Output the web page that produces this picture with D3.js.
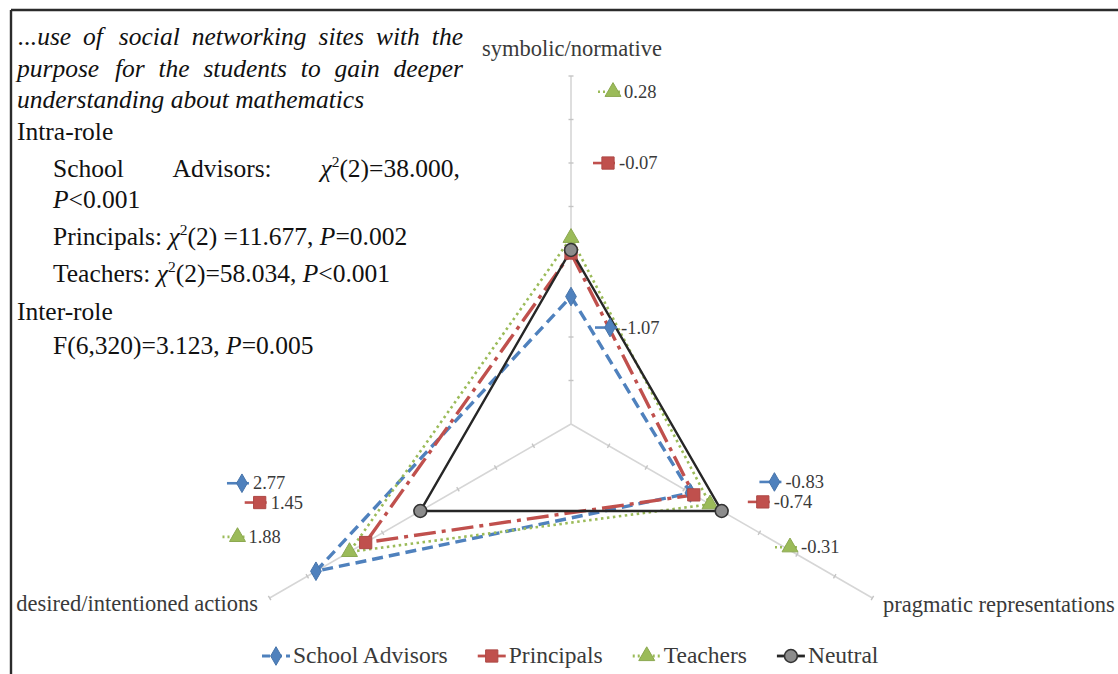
<!DOCTYPE html>
<html><head><meta charset="utf-8">
<script src="https://cdn.jsdelivr.net/npm/d3@7"></script>
</head><body style="margin:0">
<svg id="chart" width="1118" height="674"></svg>
<script>
// ---------- data ----------
const axisNames = ["symbolic/normative", "pragmatic representations", "desired/intentioned actions"];
const seriesNames = ["School Advisors", "Principals", "Teachers", "Neutral"];
const schoolAdvisors = [-1.07, -0.83, 2.77];
const principals = [-0.07, -0.74, 1.45];
const teachers = [0.28, -0.31, 1.88];
const neutral = [0, 0, 0];
const radialTicks = [-4, -3, -2, -1, 0, 1, 2, 3, 4];
// note text: *...* italic, ^2 superscript
const noteLines = [
  "*...use of social networking sites with the*",
  "*purpose for the students to gain deeper*",
  "*understanding about mathematics*",
  "Intra-role",
  "School Advisors: *\u03C7*^2(2)=38.000,",
  "*P*<0.001",
  "Principals: *\u03C7*^2(2) =11.677, *P*=0.002",
  "Teachers: *\u03C7*^2(2)=58.034, *P*<0.001",
  "Inter-role",
  "F(6,320)=3.123, *P*=0.005"
];

// ---------- layout ----------
const W = 1118, H = 674;
const cx = 571, cy = 424, R = 348;
const FONT = "Liberation Serif";
const svg = d3.select("#chart");

// frame
svg.append("line").attr("x1", 11).attr("x2", W).attr("y1", 10).attr("y2", 10)
  .attr("stroke", "#2b2b2b").attr("stroke-width", 2.4);
svg.append("line").attr("x1", 11).attr("x2", 11).attr("y1", 10).attr("y2", H)
  .attr("stroke", "#2b2b2b").attr("stroke-width", 2.4);

const r = d3.scaleLinear().domain([-4, 4]).range([0, R]);
const angle = i => i * 2 * Math.PI / axisNames.length;
const px = (v, i) => cx + r(v) * Math.sin(angle(i));
const py = (v, i) => cy - r(v) * Math.cos(angle(i));

const g = svg.append("g");

// axes
axisNames.forEach((name, i) => {
  g.append("line").attr("x1", cx).attr("y1", cy)
    .attr("x2", px(4, i)).attr("y2", py(4, i))
    .attr("stroke", "#d6d6d6").attr("stroke-width", 1.6);
  radialTicks.slice(1).forEach(t => {
    const a = angle(i), x = px(t, i), y = py(t, i);
    const nx = Math.cos(a) * 2.5, ny = Math.sin(a) * 2.5;
    g.append("line").attr("x1", x - nx).attr("y1", y - ny).attr("x2", x + nx).attr("y2", y + ny)
      .attr("stroke", "#c4c4c4").attr("stroke-width", 1.4);
  });
});

// axis labels
const axisLabelPos = [
  {x: cx + 1, y: 56, anchor: "middle"},
  {x: 883, y: 612, anchor: "start"},
  {x: 258, y: 611, anchor: "end"}
];
axisNames.forEach((name, i) => {
  g.append("text").attr("x", axisLabelPos[i].x).attr("y", axisLabelPos[i].y)
    .attr("text-anchor", axisLabelPos[i].anchor).attr("font-family", FONT)
    .attr("font-size", 22.5).attr("fill", "#3a3a3a")
    .text(name);
});

// series styles
const styles = [
  {color: "#4f81bd", dash: "11,6", width: 3.4, sym: d3.symbolDiamond, size: 100},
  {color: "#c0504d", dash: "22,6,4,6", width: 3.4, sym: d3.symbolSquare, size: 150},
  {color: "#9bbb59", dash: "2.5,3.5", width: 2.6, sym: d3.symbolTriangle, size: 110},
  {color: "#262626", dash: null, width: 2.4, sym: d3.symbolCircle, size: 130}
];
const seriesValues = [schoolAdvisors, principals, teachers, neutral];

const radial = d3.lineRadial().angle((d, i) => angle(i)).radius(d => r(d)).curve(d3.curveLinearClosed);

function marker(sel, k, x, y) {
  const s = styles[k];
  const m = sel.append("path").attr("d", d3.symbol().type(s.sym).size(s.size)())
    .attr("transform", `translate(${x},${y})`);
  if (k === 3) m.attr("fill", "#8c8c8c").attr("stroke", "#333").attr("stroke-width", 1.6);
  else m.attr("fill", s.color).attr("stroke", d3.color(s.color).darker(0.3)).attr("stroke-width", 1);
}
function styleLine(sel, k) {
  const s = styles[k];
  sel.attr("fill", "none").attr("stroke", s.color).attr("stroke-width", s.width)
    .attr("stroke-linejoin", "miter");
  if (s.dash) sel.attr("stroke-dasharray", s.dash);
}

seriesValues.forEach((vals, k) => {
  const p = g.append("path").datum(vals).attr("d", radial)
    .attr("transform", `translate(${cx},${cy})`);
  styleLine(p, k);
});
seriesValues.forEach((vals, k) => {
  vals.forEach((v, i) => marker(g, k, px(v, i), py(v, i)));
});

// data labels (offsets of the key from each point)
const labelOffsets = [
  [[39, 31], [84, -11], [-74, -88]],
  [[37, -90], [69, 7], [-106, -40]],
  [[42, -146], [80, 43], [-112, -15]]
];
[schoolAdvisors, principals, teachers].forEach((vals, k) => {
  vals.forEach((v, i) => {
    const x = px(v, i) + labelOffsets[k][i][0], y = py(v, i) + labelOffsets[k][i][1];
    const l = g.append("line").attr("x1", x - 15).attr("x2", x + 7).attr("y1", y).attr("y2", y);
    styleLine(l, k);
    l.attr("stroke-width", 2.6).attr("stroke-dasharray", k === 2 ? "2,3" : null);
    marker(g, k, x, y);
    g.append("text").attr("x", x + 11).attr("y", y + 6).attr("font-family", FONT)
      .attr("font-size", 18.5).attr("fill", "#3a3a3a")
      .text(v.toFixed(2));
  });
});

// legend
const leg = svg.append("g");
let lx = 262;
const ly = 656;
seriesNames.forEach((name, k) => {
  const l = leg.append("line").attr("x1", lx).attr("x2", lx + 28).attr("y1", ly).attr("y2", ly);
  styleLine(l, k);
  l.attr("stroke-width", 2.8).attr("stroke-dasharray", k === 0 ? "8,4" : k === 2 ? "2,3" : null);
  marker(leg, k, lx + 14, ly);
  const t = leg.append("text").attr("x", lx + 31).attr("y", ly + 7).attr("font-family", FONT)
    .attr("font-size", 23.5).attr("fill", "#3a3a3a").text(name);
  lx += 31 + t.node().getComputedTextLength() + 30;
});

// note text
const noteLayout = [
  {x0: 18, x1: 463, y: 45, justify: true},
  {x0: 17, x1: 463, y: 77, justify: true},
  {x0: 17, x1: null, y: 108},
  {x0: 17, x1: null, y: 140},
  {x0: 53, x1: 463, y: 177, justify: true},
  {x0: 53, x1: null, y: 208},
  {x0: 53, x1: null, y: 245},
  {x0: 53, x1: null, y: 282},
  {x0: 17, x1: null, y: 320},
  {x0: 53, x1: null, y: 354}
];
const noteG = svg.append("g");
function addRich(textSel, str) {
  const parts = str.split(/(\*[^*]+\*|\^\d)/).filter(s => s.length);
  let raised = false;
  parts.forEach(p => {
    const ts = textSel.append("tspan");
    if (p.startsWith("^")) {
      ts.text(p.slice(1)).attr("font-size", 15.5).attr("dy", -10);
      raised = true;
    } else {
      if (raised) { ts.attr("dy", 10); raised = false; }
      if (p.startsWith("*")) ts.text(p.slice(1, -1)).attr("font-style", "italic");
      else ts.text(p);
    }
  });
}
function noteText(y) {
  return noteG.append("text").attr("y", y).attr("font-family", FONT)
    .attr("font-size", 25.5).attr("fill", "#111");
}
noteLines.forEach((line, li) => {
  const L = noteLayout[li];
  const italicLine = /^\*[^*]*\*$/.test(line);
  if (!L.justify) {
    const t = noteText(L.y).attr("x", L.x0);
    addRich(t, line);
    return;
  }
  let words;
  if (italicLine) words = line.slice(1, -1).split(" ").map(w => "*" + w + "*");
  else words = line.split(" ");
  const nodes = words.map(w => {
    const t = noteText(L.y);
    addRich(t, w);
    return t;
  });
  const widths = nodes.map(n => n.node().getBBox().width);
  const total = d3.sum(widths);
  const gap = (L.x1 - L.x0 - total) / (words.length - 1);
  let x = L.x0;
  nodes.forEach((n, j) => { n.attr("x", x); x += widths[j] + gap; });
});
</script>
</body></html>
